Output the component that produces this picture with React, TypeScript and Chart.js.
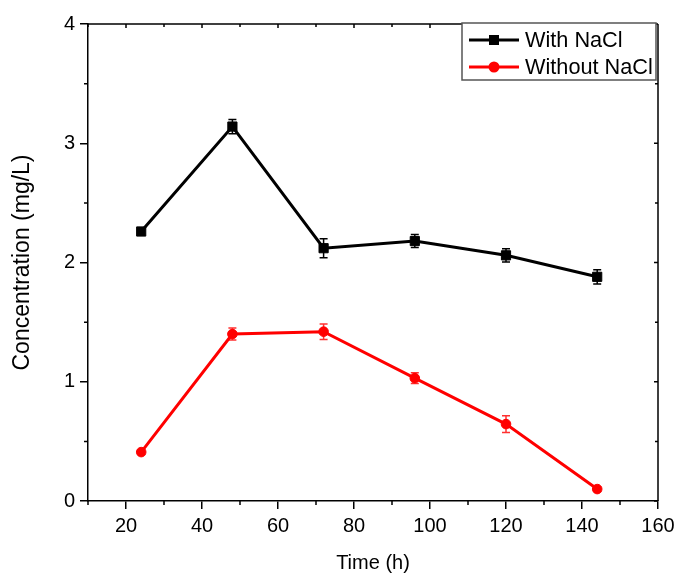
import React, { useEffect, useRef } from 'react';
import { Chart, registerables } from 'chart.js';

Chart.register(...registerables);

// ---- data ----
const timeHours = [24, 48, 72, 96, 120, 144];
const withNaCl = [2.26, 3.14, 2.12, 2.18, 2.06, 1.88];
const withNaClErr = [0.02, 0.06, 0.08, 0.055, 0.055, 0.06];
const withoutNaCl = [0.41, 1.4, 1.42, 1.03, 0.645, 0.1];
const withoutNaClErr = [0.02, 0.05, 0.065, 0.045, 0.07, 0.02];
const seriesLabels = ['With NaCl', 'Without NaCl'];

const xTicks = [20, 40, 60, 80, 100, 120, 140, 160];
const xMinorTicks = [10, 30, 50, 70, 90, 110, 130, 150];
const yTicks = [0, 1, 2, 3, 4];
const yMinorTicks = [0.5, 1.5, 2.5, 3.5];
const xRange = [10, 160];
const yRange = [0, 4];
const xTitle = 'Time (h)';
const yTitle = 'Concentration (mg/L)';

const FONT = '"Liberation Sans", Arial, sans-serif';

const errorBarPlugin = {
  id: 'errorBars',
  beforeDatasetsDraw(chart: any) {
    const { ctx, scales } = chart;
    const xs = scales.x;
    const ys = scales.y;
    chart.data.datasets.forEach((ds: any) => {
      const errs: number[] = ds.errors || [];
      ctx.save();
      ctx.strokeStyle = ds.errorColor;
      ctx.lineWidth = 1.5;
      ds.data.forEach((p: any, i: number) => {
        const e = errs[i] || 0;
        const px = xs.getPixelForValue(p.x);
        const top = ys.getPixelForValue(p.y + e);
        const bot = ys.getPixelForValue(p.y - e);
        ctx.beginPath();
        ctx.moveTo(px, top);
        ctx.lineTo(px, bot);
        ctx.moveTo(px - 4, top);
        ctx.lineTo(px + 4, top);
        ctx.moveTo(px - 4, bot);
        ctx.lineTo(px + 4, bot);
        ctx.stroke();
      });
      ctx.restore();
    });
  },
};

const framePlugin = {
  id: 'frame',
  afterDraw(chart: any) {
    const { ctx, chartArea: a, scales } = chart;
    const xs = scales.x;
    const ys = scales.y;
    ctx.save();
    ctx.strokeStyle = '#000';
    ctx.lineWidth = 1.5;
    ctx.beginPath();
    // top & right border
    ctx.moveTo(a.left, a.top);
    ctx.lineTo(a.right, a.top);
    ctx.moveTo(a.right, a.top);
    ctx.lineTo(a.right, a.bottom);
    // minor ticks outward on bottom and left, mirrored ticks inward on top/right
    xMinorTicks.forEach((v) => {
      const px = xs.getPixelForValue(v);
      ctx.moveTo(px, a.bottom);
      ctx.lineTo(px, a.bottom + 4);
      ctx.moveTo(px, a.top);
      ctx.lineTo(px, a.top + 3);
    });
    xTicks.forEach((v) => {
      const px = xs.getPixelForValue(v);
      ctx.moveTo(px, a.top);
      ctx.lineTo(px, a.top + 4);
    });
    yMinorTicks.forEach((v) => {
      const py = ys.getPixelForValue(v);
      ctx.moveTo(a.left, py);
      ctx.lineTo(a.left - 4, py);
      ctx.moveTo(a.right, py);
      ctx.lineTo(a.right - 3, py);
    });
    yTicks.forEach((v) => {
      const py = ys.getPixelForValue(v);
      ctx.moveTo(a.right, py);
      ctx.lineTo(a.right - 4, py);
    });
    ctx.stroke();

    // legend box
    const bw = 194;
    const bh = 57;
    const bx = a.right - 2 - bw;
    const by = a.top - 1;
    ctx.fillStyle = '#fff';
    ctx.fillRect(bx, by, bw, bh);
    ctx.strokeStyle = '#555';
    ctx.lineWidth = 1.5;
    ctx.strokeRect(bx, by, bw, bh);
    ctx.font = `21.7px ${FONT}`;
    ctx.textBaseline = 'middle';
    ctx.textAlign = 'left';
    chart.data.datasets.forEach((ds: any, i: number) => {
      const cy = by + 17 + i * 27;
      ctx.strokeStyle = ds.borderColor;
      ctx.lineWidth = 3;
      ctx.beginPath();
      ctx.moveTo(bx + 7, cy);
      ctx.lineTo(bx + 57, cy);
      ctx.stroke();
      ctx.fillStyle = ds.backgroundColor;
      if (ds.pointStyle === 'rect') {
        ctx.fillRect(bx + 32 - 5, cy - 5, 10, 10);
      } else {
        ctx.beginPath();
        ctx.arc(bx + 32, cy, 5.5, 0, Math.PI * 2);
        ctx.fill();
      }
      ctx.fillStyle = '#000';
      ctx.fillText(ds.label, bx + 63, cy + 1);
    });
    ctx.restore();
  },
};

export default function App() {
  const ref = useRef<HTMLCanvasElement | null>(null);

  useEffect(() => {
    if (!ref.current) return;
    const chart = new Chart(ref.current, {
      type: 'line',
      data: {
        datasets: [
          {
            label: seriesLabels[0],
            data: timeHours.map((t, i) => ({ x: t, y: withNaCl[i] })),
            borderColor: '#000000',
            backgroundColor: '#000000',
            borderWidth: 3,
            pointStyle: 'rect',
            pointRadius: 6.5,
            pointBorderWidth: 1,
            pointBorderColor: '#000000',
            pointBackgroundColor: '#000000',
            tension: 0,
            errors: withNaClErr,
            errorColor: '#000000',
          } as any,
          {
            label: seriesLabels[1],
            data: timeHours.map((t, i) => ({ x: t, y: withoutNaCl[i] })),
            borderColor: '#ff0000',
            backgroundColor: '#ff0000',
            borderWidth: 3,
            pointStyle: 'circle',
            pointRadius: 4.8,
            pointBorderWidth: 1,
            pointBorderColor: '#ff0000',
            pointBackgroundColor: '#ff0000',
            tension: 0,
            errors: withoutNaClErr,
            errorColor: '#ff3030',
          } as any,
        ],
      },
      options: {
        responsive: false,
        animation: false,
        layout: { padding: { left: 0, top: 24, right: 20, bottom: 0 } },
        plugins: { legend: { display: false }, tooltip: { enabled: false } },
        scales: {
          x: {
            type: 'linear',
            min: xRange[0],
            max: xRange[1],
            afterBuildTicks: (s: any) => {
              s.ticks = xTicks.map((v) => ({ value: v }));
            },
            afterFit: (s: any) => {
              s.height = 73;
              s.paddingLeft = 0;
              s.paddingRight = 0;
            },
            grid: {
              display: true,
              drawOnChartArea: false,
              drawTicks: true,
              tickLength: 8,
              color: '#000',
              lineWidth: 1.5,
            },
            border: { display: true, color: '#000', width: 1.5 },
            ticks: {
              color: '#000',
              font: { family: FONT, size: 20 },
              padding: 5,
              maxRotation: 0,
              autoSkip: false,
            },
            title: {
              display: true,
              text: xTitle,
              color: '#000',
              font: { family: FONT, size: 20, lineHeight: 1.1 },
              padding: { top: 0, bottom: 0 },
            },
          },
          y: {
            type: 'linear',
            min: yRange[0],
            max: yRange[1],
            afterBuildTicks: (s: any) => {
              s.ticks = yTicks.map((v) => ({ value: v }));
            },
            afterFit: (s: any) => {
              s.width = 88;
              s.paddingTop = 0;
              s.paddingBottom = 0;
            },
            grid: {
              display: true,
              drawOnChartArea: false,
              drawTicks: true,
              tickLength: 8,
              color: '#000',
              lineWidth: 1.5,
            },
            border: { display: true, color: '#000', width: 1.5 },
            ticks: {
              color: '#000',
              font: { family: FONT, size: 20 },
              padding: 5,
            },
            title: {
              display: true,
              text: yTitle,
              color: '#000',
              font: { family: FONT, size: 23 },
              padding: { top: 9, bottom: 0 },
            },
          },
        },
      },
      plugins: [errorBarPlugin, framePlugin],
    });
    return () => chart.destroy();
  }, []);

  return (
    <div style={{ position: 'fixed', left: 0, top: 0, width: 678, height: 574, background: '#fff' }}>
      <canvas ref={ref} width={678} height={574} style={{ display: 'block' }} />
    </div>
  );
}
